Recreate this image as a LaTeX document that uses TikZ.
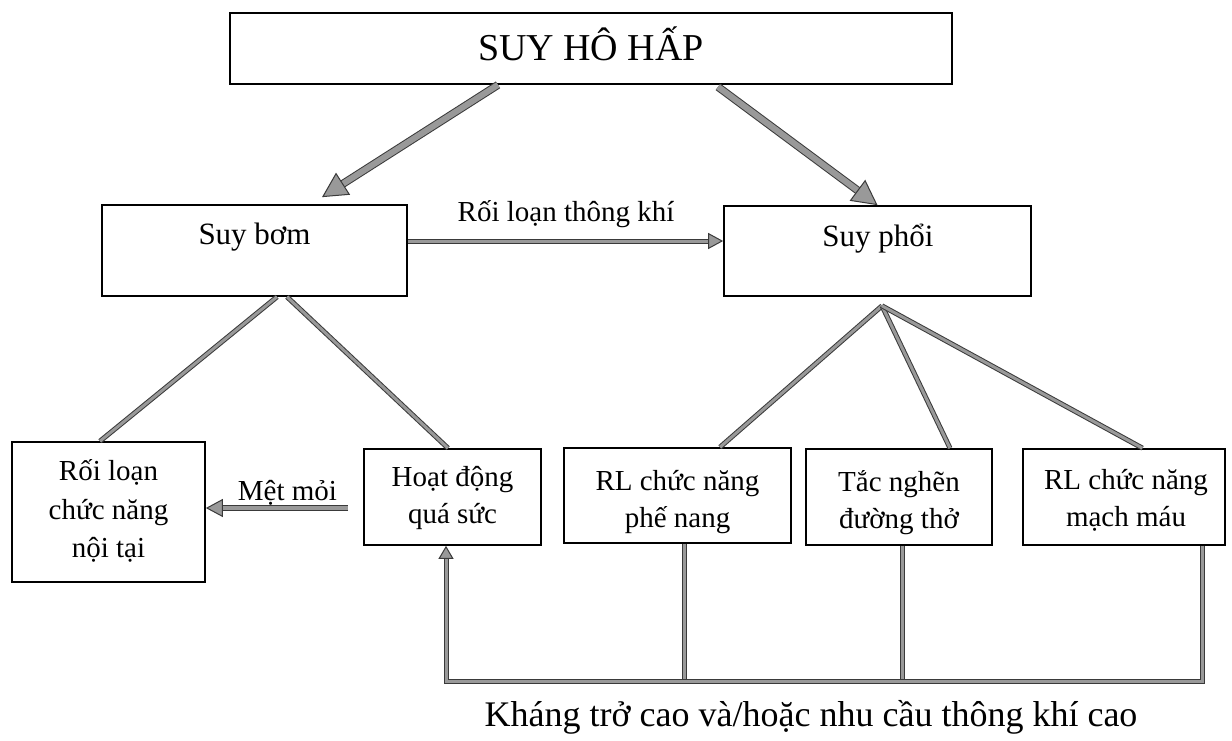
\documentclass[tikz,border=0pt]{standalone}
\usepackage{fontspec}
\setmainfont{Liberation Serif}
\usetikzlibrary{arrows.meta,calc}
\definecolor{edge}{HTML}{3A3A3A}
\definecolor{shaft}{HTML}{999999}
\begin{document}
\begin{tikzpicture}[x=1pt,y=-1pt,
  box/.style={draw=black, line width=1.7pt, rectangle, inner sep=0pt},
  boxtxt/.style={font=\fontsize{29}{37}\selectfont, align=center},
  lbl/.style={font=\fontsize{29}{34}\selectfont, anchor=base},
  conn/.style={draw=edge, line width=1pt, double=shaft, double distance=3pt},
  bigarrow/.style={draw=edge, line width=1pt, double=shaft, double distance=6pt,
    -{Triangle[length=25pt,width=26pt,fill=shaft,line width=1pt]}},
  midarrow/.style={draw=edge, line width=1pt, double=shaft, double distance=3pt,
    -{Triangle[length=15pt,width=16pt,fill=shaft,line width=1pt]}},
  smallarrow/.style={draw=edge, line width=1pt, double=shaft, double distance=3pt,
    -{Triangle[length=13pt,width=15pt,fill=shaft,line width=1pt]}}]
\useasboundingbox[fill=white] (0,0) rectangle (1232,740);

% boxes
\node[box, minimum width=722pt, minimum height=71pt] (top) at (591,48.5) {};
\node[box, minimum width=305pt, minimum height=91pt] (bom) at (254.5,250.5) {};
\node[box, minimum width=307pt, minimum height=90pt] (phoi) at (877.5,251) {};
\node[box, minimum width=193pt, minimum height=140pt] (roiloan) at (108.5,512) {};
\node[box, minimum width=177pt, minimum height=96pt] (hoat) at (452.5,497) {};
\node[box, minimum width=227pt, minimum height=95pt] (phe) at (677.5,495.5) {};
\node[box, minimum width=186pt, minimum height=96pt] (tac) at (899,497) {};
\node[box, minimum width=202pt, minimum height=96pt] (mach) at (1124,497) {};

% box texts
\node[anchor=base, font=\fontsize{38}{44}\selectfont] (top-t) at (591,60) {SUY HÔ HẤP};
\node[lbl, font=\fontsize{31}{36}\selectfont] (bom-t) at (254.5,244) {Suy bơm};
\node[lbl, font=\fontsize{31}{36}\selectfont] (phoi-t) at (878,246) {Suy phổi};
\node[boxtxt, font=\fontsize{29}{38.5}\selectfont] (roiloan-t) at (108.5,511) {Rối loạn\\chức năng\\nội tại};
\node[boxtxt] (hoat-t) at (452.5,497.5) {Hoạt động\\quá sức};
\node[boxtxt] (phe-t) at (677.5,502.5) {RL chức năng\\phế nang};
\node[boxtxt] (tac-t) at (899,503) {Tắc nghẽn\\đường thở};
\node[boxtxt] (mach-t) at (1126,500) {RL chức năng\\mạch máu};

% edge labels
\node[lbl] (thongkhi) at (566,221) {Rối loạn thông khí};
\node[lbl] (metmoi) at (287.5,500) {Mệt mỏi};
\node[anchor=base, font=\fontsize{36}{42}\selectfont] (khangtro) at (811,726) {Kháng trở cao và/hoặc nhu cầu thông khí cao};

% main split
\draw[bigarrow] ($(top.south)+(-93,0)$) -- ($(bom.north)+(67.5,-7)$);
\draw[bigarrow] ($(top.south)+(127,2)$) -- (phoi.north);

% horizontal arrows
\draw[midarrow] ($(bom.east)+(0,-9.5)$) -- ($(phoi.west)+(0,-10)$);
\draw[midarrow, double distance=4pt, -{Triangle[length=17pt,width=18pt,fill=shaft,line width=1pt]}]
  ($(hoat.west)+(-15,11)$) -- ($(roiloan.east)+(0,-4)$);

% branches under the pump box
\draw[conn] ($(bom.south)+(22.5,0)$) -- ($(roiloan.north)+(-8.5,0)$);
\draw[conn] ($(bom.south)+(32.5,0)$) -- ($(hoat.north)+(-4.5,0)$);

% fan under the lung box
\coordinate (fan) at ($(phoi.south)+(4.5,9)$);
\draw[conn] (fan) -- ($(phe.north)+(42.5,0)$);
\draw[conn] (fan) -- ($(tac.north)+(51,0)$);
\draw[conn] (fan) -- ($(mach.north)+(18.5,0)$);

% feedback bus
\coordinate (busR) at ($(mach.south)+(78,136)$);
\coordinate (busL) at ($(hoat.south)+(-6.5,136)$);
\coordinate (pf) at ($(phe.south)+(7,0)$);
\coordinate (tf) at ($(tac.south)+(3,0)$);
\draw[conn] (pf) -- ($(pf |- busR)+(0,-2.5)$);
\draw[conn] (tf) -- ($(tf |- busR)+(0,-2.5)$);
\draw[smallarrow] (busR |- mach.south) -- (busR) -- (busL) -- (busL |- hoat.south);
\end{tikzpicture}
\end{document}
